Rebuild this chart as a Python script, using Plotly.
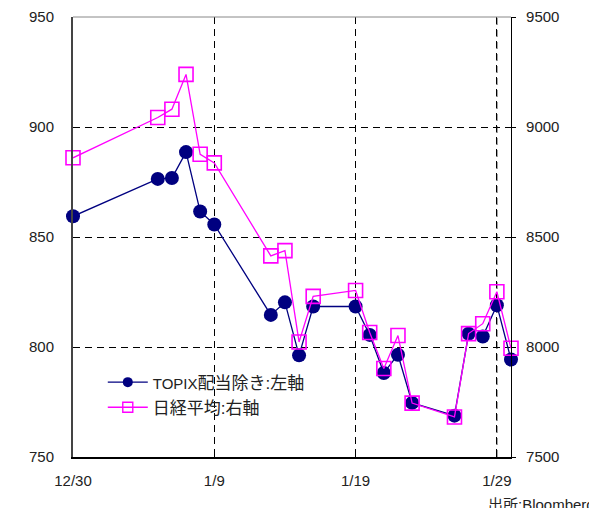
import plotly.graph_objects as go

# Trading days and closing levels
dates = ["2008-12-30", "2009-01-05", "2009-01-06", "2009-01-07", "2009-01-08",
         "2009-01-09", "2009-01-13", "2009-01-14", "2009-01-15", "2009-01-16",
         "2009-01-19", "2009-01-20", "2009-01-21", "2009-01-22", "2009-01-23",
         "2009-01-26", "2009-01-27", "2009-01-28", "2009-01-29", "2009-01-30"]
topix_ex_div = [859.4, 876.4, 876.8, 888.6, 861.6, 855.7, 814.6, 820.3, 796.2, 818.4,
                818.4, 805.5, 788.2, 796.5, 774.6, 768.8, 806.0, 804.8, 819.0, 794.3]
nikkei = [8860, 9043, 9081, 9239, 8876, 8837, 8414, 8438, 8023, 8230,
          8257, 8066, 7902, 8052, 7745, 7682, 8061, 8106, 8251, 7994]

x_tickvals = ["2008-12-30", "2009-01-09", "2009-01-19", "2009-01-29"]
x_ticktext = ["12/30", "1/9", "1/19", "1/29"]
left_ticks = [750, 800, 850, 900, 950]
right_ticks = [7500, 8000, 8500, 9000, 9500]

name_topix = "TOPIX配当除き:左軸"
name_nikkei = "日経平均:右軸"
# Latin letters in the legend use a narrow face next to the kanji
legend_topix = ('<span style="font-family:\'Liberation Sans Narrow\', '
                '\'Liberation Sans\'; font-size:15px">TOPIX</span>配当除き:左軸')
legend_nikkei = name_nikkei

NAVY = "#000080"
MAGENTA = "#FF00FF"
FONT = "Liberation Sans, Arial, Noto Sans CJK JP, sans-serif"

fig = go.Figure()

fig.add_trace(go.Scatter(
    x=dates, y=topix_ex_div, mode="lines+markers", name=name_topix,
    line=dict(color=NAVY, width=1.3),
    marker=dict(symbol="circle", size=14, color=NAVY),
    showlegend=False, cliponaxis=False, yaxis="y"))

fig.add_trace(go.Scatter(
    x=dates, y=nikkei, mode="lines+markers", name=name_nikkei,
    line=dict(color=MAGENTA, width=1.3),
    marker=dict(symbol="square-open", size=14, color=MAGENTA,
                line=dict(width=1.6, color=MAGENTA)),
    showlegend=False, cliponaxis=False, yaxis="y2"))

# Legend entries with smaller sample markers
fig.add_trace(go.Scatter(
    x=[None], y=[None], mode="lines+markers", name=legend_topix,
    line=dict(color=NAVY, width=1.3),
    marker=dict(symbol="circle", size=10, color=NAVY)))
fig.add_trace(go.Scatter(
    x=[None], y=[None], mode="lines+markers", name=legend_nikkei,
    line=dict(color=MAGENTA, width=1.3),
    marker=dict(symbol="square-open", size=10, color=MAGENTA,
                line=dict(width=1.4, color=MAGENTA))))

fig.update_layout(
    width=589, height=508,
    margin=dict(l=73, r=78, t=17, b=51, autoexpand=False),
    paper_bgcolor="white", plot_bgcolor="white",
    font=dict(family=FONT, size=15, color="#222222"),
    showlegend=True,
    legend=dict(x=0.068, y=0.21, xanchor="left", yanchor="top",
                bgcolor="rgba(0,0,0,0)", borderwidth=0,
                font=dict(family=FONT, size=17, color="#222222"),
                itemwidth=40, tracegroupgap=0),
    xaxis=dict(
        type="date", range=["2008-12-30", "2009-01-30"],
        tickmode="array", tickvals=x_tickvals, ticktext=x_ticktext,
        showline=True, linecolor="black", linewidth=1.5,
        ticks="inside", ticklen=5, tickcolor="black", tickwidth=1,
        showgrid=True, gridcolor="black", gridwidth=1, griddash="7px,5px",
        ticklabelstandoff=9, zeroline=False, automargin=False),
    yaxis=dict(
        range=[750, 950], tickmode="array", tickvals=left_ticks,
        showline=True, linecolor="#444444", linewidth=2,
        ticks="", showgrid=True, gridcolor="black", gridwidth=1,
        griddash="7px,5px", ticklabelstandoff=14, zeroline=False,
        automargin=False),
    yaxis2=dict(
        range=[7500, 9500], tickmode="array", tickvals=right_ticks,
        overlaying="y", side="right",
        showline=True, linecolor="black", linewidth=1.2,
        ticks="outside", ticklen=4, tickcolor="black",
        showgrid=False, ticklabelstandoff=7, zeroline=False,
        automargin=False),
)

# Last vertical grid line is drawn in grey
fig.add_shape(type="line", xref="x", yref="paper", layer="between",
              x0=x_tickvals[-1], x1=x_tickvals[-1], y0=0, y1=1,
              line=dict(color="#7a7a7a", width=1.6, dash="7px,5px"))

# Top border of the plot area
fig.add_shape(type="line", xref="paper", yref="paper", x0=0, x1=1, y0=1, y1=1,
              line=dict(color="#888888", width=1))

fig.add_annotation(
    text="出所:Bloomberg", xref="paper", yref="paper",
    x=(486 - 73) / 438, y=-0.083, xanchor="left", yanchor="top",
    showarrow=False, font=dict(family=FONT, size=15, color="#222222"))

fig.write_html("out.html")
